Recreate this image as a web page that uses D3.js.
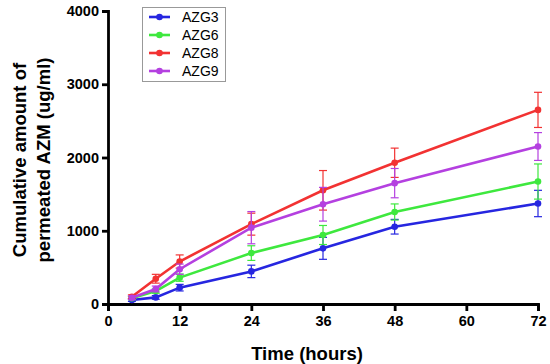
<!DOCTYPE html>
<html>
<head>
<meta charset="utf-8">
<script src="https://cdn.jsdelivr.net/npm/d3@7"></script>
<style>
body { margin: 0; background: #fff; }
text { font-family: "Liberation Sans", Arial, sans-serif; }
</style>
</head>
<body>
<script>
var hours = [4, 8, 12, 24, 36, 48, 72];
var seriesNames = ["AZG3", "AZG6", "AZG8", "AZG9"];
var colors = ["#2626e0", "#3ee83e", "#f23232", "#b440e0"];

var azg3 = [55, 90, 223, 445, 760, 1055, 1372];
var azg6 = [80, 177, 360, 695, 942, 1256, 1672];
var azg8 = [100, 345, 580, 1090, 1552, 1928, 2650];
var azg9 = [85, 205, 475, 1042, 1362, 1650, 2150];

var azg3Err = [20, 25, 45, 85, 150, 100, 180];
var azg6Err = [20, 30, 50, 100, 130, 110, 240];
var azg8Err = [25, 60, 90, 150, 270, 200, 240];
var azg9Err = [25, 40, 70, 220, 230, 200, 190];

var xTicks = [0, 12, 24, 36, 48, 60, 72];
var yTicks = [0, 1000, 2000, 3000, 4000];

var values = [azg3, azg6, azg8, azg9];
var errors = [azg3Err, azg6Err, azg8Err, azg9Err];

var width = 550, height = 364;

var svg = d3.select("body")
  .append("svg")
  .attr("width", width)
  .attr("height", height);

var x = d3.scaleLinear().domain([0, 72]).range([108, 538]);
var y = d3.scaleLinear().domain([0, 4000]).range([304, 11]);

// axes
var xAxis = svg.append("g")
  .attr("transform", "translate(0," + y(0) + ")")
  .call(d3.axisBottom(x).tickValues(xTicks).tickFormat(d3.format("d"))
    .tickSize(7).tickPadding(5));

var yAxis = svg.append("g")
  .attr("transform", "translate(" + x(0) + ",0)")
  .call(d3.axisLeft(y).tickValues(yTicks).tickFormat(d3.format("d"))
    .tickSize(6).tickPadding(3));

[xAxis, yAxis].forEach(function(a) {
  a.select(".domain").attr("stroke", "#000").attr("stroke-width", 2.8);
  a.selectAll(".tick line").attr("stroke", "#000").attr("stroke-width", 2.8);
  a.selectAll(".tick text")
    .attr("fill", "#000")
    .style("font-size", "14.5px")
    .style("font-weight", "bold");
});

// series
var line = d3.line()
  .x(function(d, i) { return x(hours[i]); })
  .y(function(d) { return y(d); });

values.forEach(function(vals, s) {
  var g = svg.append("g");
  var col = colors[s];

  vals.forEach(function(v, i) {
    var e = errors[s][i];
    var cx = x(hours[i]);
    g.append("line")
      .attr("x1", cx).attr("x2", cx)
      .attr("y1", y(v - e)).attr("y2", y(v + e))
      .attr("stroke", col).attr("stroke-width", 1.2);
    [v - e, v + e].forEach(function(t) {
      g.append("line")
        .attr("x1", cx - 4).attr("x2", cx + 4)
        .attr("y1", y(t)).attr("y2", y(t))
        .attr("stroke", col).attr("stroke-width", 1.2);
    });
  });

  g.append("path")
    .datum(vals)
    .attr("d", line)
    .attr("fill", "none")
    .attr("stroke", col)
    .attr("stroke-width", 2.6);

  g.selectAll("circle")
    .data(vals)
    .enter()
    .append("circle")
    .attr("cx", function(d, i) { return x(hours[i]); })
    .attr("cy", function(d) { return y(d); })
    .attr("r", 3.3)
    .attr("fill", col);
});

// legend
var legend = svg.append("g");
legend.append("rect")
  .attr("x", 142.5).attr("y", 7.5)
  .attr("width", 83).attr("height", 74)
  .attr("fill", "#fff")
  .attr("stroke", "#999")
  .attr("stroke-width", 1);

seriesNames.forEach(function(n, i) {
  var ly = 17 + i * 18;
  legend.append("line")
    .attr("x1", 149).attr("x2", 170)
    .attr("y1", ly).attr("y2", ly)
    .attr("stroke", colors[i]).attr("stroke-width", 2.6);
  legend.append("circle")
    .attr("cx", 159.5).attr("cy", ly).attr("r", 3.3)
    .attr("fill", colors[i]);
  legend.append("text")
    .attr("x", 182).attr("y", ly + 5)
    .style("font-size", "14px")
    .text(n);
});

// axis titles
svg.append("text")
  .attr("x", 307).attr("y", 360)
  .attr("text-anchor", "middle")
  .style("font-size", "18.5px")
  .style("font-weight", "bold")
  .text("Time (hours)");

var yt = svg.append("text")
  .attr("transform", "translate(0,160) rotate(-90)")
  .attr("text-anchor", "middle")
  .style("font-size", "18.5px")
  .style("font-weight", "bold");
yt.append("tspan").attr("x", 0).attr("y", 26).text("Cumulative amount of");
yt.append("tspan").attr("x", 0).attr("y", 50).text("permeated AZM (ug/ml)");
</script>
</body>
</html>
